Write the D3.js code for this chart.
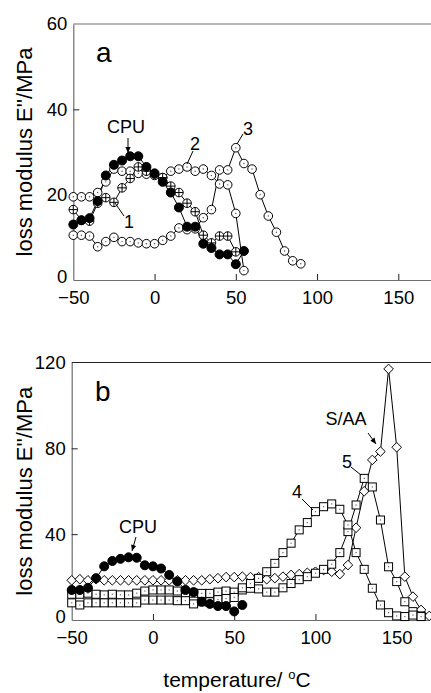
<!DOCTYPE html>
<html><head><meta charset="utf-8">
<script src="https://cdn.jsdelivr.net/npm/d3@7/dist/d3.min.js"></script>
<style>
html,body{margin:0;padding:0;background:#fff;}
svg{display:block;font-family:"Liberation Sans",Arial,sans-serif;}
</style></head>
<body>
<svg id="chart" width="431" height="693"></svg>
<script>
// ---- Data ----
const xTicks = [-50, 0, 50, 100, 150];
const yTicksA = [0, 20, 40, 60];
const yTicksB = [0, 40, 80, 120];

// Panel a
const tA_cpu = [-50,-45,-40,-35,-30,-25,-20,-15,-10,-5,0,5,10,15,20,25,30,35,40,45,50,55];
const eA_cpu = [13,14,14.5,18.5,24.5,27,28,29,29,26.5,25,23,20.5,17,12.5,12.5,8.5,7.5,6,6,3.7,6.8];
const tA_1 = [-50,-45,-40,-35,-30,-25,-20,-15,-10,-5,0,5,10,15,20,25,30,35,40,45,50];
const eA_1 = [16.5,14,13.8,18,19.3,18.2,21.6,23.8,26.5,25.5,24.8,24,22,20.5,18,16,10.5,8.7,10.3,10.3,6.6];
const tA_2 = [-50,-45,-40,-35,-30,-25,-20,-15,-10,-5,0,5,10,15,20,25,30,35,40,45,50,55];
const eA_2 = [19.5,19.5,19.5,20.5,23,26,25.5,25.5,25,24.8,24.5,24,25.5,26,26.5,25.5,26,24.5,22.5,22.3,15.6,2.2];
const tA_3 = [-50,-45,-40,-35,-30,-25,-20,-15,-10,-5,0,5,10,15,20,25,30,35,40,45,50,55,60,65,70,75,80,85,90];
const eA_3 = [10.5,10.5,10.3,7.8,9,10,9,9,8.7,8.5,8.5,9.3,10.3,12.2,11.8,12,14.6,16.5,25.8,25.8,31,27.3,26,20,15,11.2,6.8,4.5,3.8];

// Panel b
const tB_cpu = [-50,-45,-40,-35,-30,-25,-20,-15,-10,-5,0,5,10,15,20,25,30,35,40,45,50,55];
const eB_cpu = [14,14,15,19.5,25,27.5,28.5,29.2,29,25.5,25,24,21,18,14,13,8.5,7.5,6.5,6.5,4,7];
const tB_saa = [-50,-45,-40,-35,-30,-25,-20,-15,-10,-5,0,5,10,15,20,25,30,35,40,45,50,55,60,65,70,75,80,85,90,95,100,105,110,115,120,125,130,135,140,145,150,155,160,165,170];
const eB_saa = [18.5,19,18.5,19,18.5,18.5,18.5,18.5,18.5,18.5,18.5,18.5,18.5,18.5,18.5,18.5,18.5,19,19.5,20,20,20.2,20,20,19,19.5,20.2,21,21.4,22,22.5,23.3,22.5,21.4,25.6,43,60,74.6,78.5,117,80.5,20.2,10.9,4.7,1.9];
const tB_4 = [-50,-45,-40,-35,-30,-25,-20,-15,-10,-5,0,5,10,15,20,25,30,35,40,45,50,55,60,65,70,75,80,85,90,95,100,105,110,115,120,125,130,135,140,145,150,155,160,165];
const eB_4 = [8,7,8,8,8,8,8,8,8,9.3,9.3,9.3,9.3,9,9,7.5,8.5,8.5,9.5,10,10.5,15,17,19.4,22.5,26.4,31.4,35.8,42,45.4,50.5,52.8,54.1,51.6,44.3,31.4,23.6,14.8,7,3.4,1.9,1.6,2.3,1.6];
const tB_5 = [-50,-45,-40,-35,-30,-25,-20,-15,-10,-5,0,5,10,15,20,25,30,35,40,45,50,55,60,65,70,75,80,85,90,95,100,105,110,115,120,125,130,135,140,145,150,155,160,165];
const eB_5 = [12,12,12.5,12,11.7,12,11.7,11.7,12.5,13.5,14,14,14,13.5,12.5,12.5,12.4,12.4,13,13.5,13,14,14.8,14.5,13,13,15,17,18.8,20.2,21.8,23.6,26,31.4,41.2,53.6,66,62,46.6,24.8,17.9,8.5,3.9,1.9];

const zip = (t, e) => t.map((v, i) => ({t: v, e: e[i]}));

const svg = d3.select("#chart");
const axisColor = "#6e6e6e";

function panel(cfg) {
  const x = d3.scaleLinear().domain([-50, 170]).range(cfg.xr);
  const y = d3.scaleLinear().domain([0, cfg.ymax]).range(cfg.yr);
  const g = svg.append("g");

  // top spine
  g.append("line").attr("x1", cfg.xr[0]).attr("x2", 431)
    .attr("y1", y(cfg.ymax)).attr("y2", y(cfg.ymax))
    .attr("stroke", cfg.topColor).attr("stroke-width", 1.2);

  const ax = g.append("g").attr("transform", `translate(0,${y(0)})`)
    .call(d3.axisBottom(x).tickValues(xTicks).tickSizeInner(-6).tickSizeOuter(0).tickPadding(11).tickFormat(d3.format("d")));
  const ay = g.append("g").attr("transform", `translate(${cfg.xr[0]},0)`)
    .call(d3.axisLeft(y).tickValues(cfg.yTicks).tickSizeInner(-6).tickSizeOuter(0).tickPadding(6).tickFormat(d3.format("d")));
  [ax, ay].forEach(a => {
    a.select(".domain").attr("stroke", axisColor).attr("stroke-width", 1.2);
    a.selectAll(".tick line").attr("stroke", "#222");
    a.selectAll(".tick text").attr("font-size", 18.5).attr("fill", "#000")
      .attr("font-family", "'Liberation Sans', Arial, sans-serif");
  });
  // hide ticks coinciding with spines
  ay.selectAll(".tick").filter(d => d === 0 || d === cfg.ymax).select("line").remove();
  ax.selectAll(".tick").filter(d => d === -50).select("line").remove();
  // nudge the zero label slightly up so it clears the x labels
  ay.selectAll(".tick").filter(d => d === 0).select("text").attr("y", -3);

  // y title
  g.append("text").attr("transform", `translate(${32},${(cfg.yr[0] + cfg.yr[1]) / 2}) rotate(-90)`)
    .attr("text-anchor", "middle").attr("font-size", 22).text("loss modulus E''/MPa");

  // panel letter
  g.append("text").attr("x", cfg.letterX).attr("y", cfg.letterY).attr("font-size", 28).text(cfg.letter);

  const line = d3.line().x(d => x(d.t)).y(d => y(d.e));
  cfg.series.forEach(s => {
    const data = zip(s.t, s.e);
    g.append("path").datum(data).attr("d", line).attr("fill", "none")
      .attr("stroke", "#000").attr("stroke-width", 1);
  });
  cfg.series.forEach(s => {
    const data = zip(s.t, s.e);
    const m = g.append("g").selectAll("g").data(data).join("g")
      .attr("transform", d => `translate(${x(d.t)},${y(d.e)})`);
    if (s.shape === "filled") {
      m.append("circle").attr("r", 4.5).attr("fill", "#000").attr("stroke", "#000");
    } else if (s.shape === "open") {
      m.append("circle").attr("r", 4.3).attr("fill", "#fff").attr("stroke", "#000").attr("stroke-width", 1);
      m.append("circle").attr("r", 0.7).attr("fill", "#555");
    } else if (s.shape === "cross") {
      m.append("circle").attr("r", 4.3).attr("fill", "#fff").attr("stroke", "#000").attr("stroke-width", 1);
      m.append("path").attr("d", "M-4.3,0H4.3M0,-4.3V4.3").attr("stroke", "#000").attr("stroke-width", 1);
    } else if (s.shape === "square") {
      m.append("rect").attr("x", -4).attr("y", -4).attr("width", 8).attr("height", 8)
        .attr("fill", "#fff").attr("stroke", "#000").attr("stroke-width", 1);
      m.append("rect").attr("x", -0.6).attr("y", -0.6).attr("width", 1.2).attr("height", 1.2).attr("fill", "#666");
    } else if (s.shape === "diamond") {
      m.append("path").attr("d", "M0,-4.8L4.8,0L0,4.8L-4.8,0Z")
        .attr("fill", "#fff").attr("stroke", "#000").attr("stroke-width", 1);
    }
  });

  // annotations
  cfg.labels.forEach(l => {
    g.append("text").attr("x", l.x).attr("y", l.y).attr("font-size", l.size || 18)
      .attr("text-anchor", "middle").text(l.text);
    if (l.line) {
      g.append("line").attr("x1", l.line[0]).attr("y1", l.line[1]).attr("x2", l.line[2]).attr("y2", l.line[3])
        .attr("stroke", "#000").attr("stroke-width", 1);
    }
    if (l.arrow) {
      const [x1, y1, x2, y2] = l.arrow;
      g.append("line").attr("x1", x1).attr("y1", y1).attr("x2", x2).attr("y2", y2)
        .attr("stroke", "#000").attr("stroke-width", 1);
      const ang = Math.atan2(y2 - y1, x2 - x1);
      const L = 6, W = 2.6;
      const bx = x2 - L * Math.cos(ang), by = y2 - L * Math.sin(ang);
      const px = -Math.sin(ang) * W, py = Math.cos(ang) * W;
      g.append("path").attr("d", `M${x2},${y2}L${bx + px},${by + py}L${bx - px},${by - py}Z`).attr("fill", "#000");
    }
  });
  return {x, y};
}

panel({
  xr: [73.3, 430.8], yr: [280, 24], ymax: 60, yTicks: yTicksA, topColor: axisColor,
  letter: "a", letterX: 96, letterY: 62,
  series: [
    {t: tA_3, e: eA_3, shape: "open"},
    {t: tA_2, e: eA_2, shape: "open"},
    {t: tA_1, e: eA_1, shape: "cross"},
    {t: tA_cpu, e: eA_cpu, shape: "filled"}
  ],
  labels: [
    {text: "CPU", x: 126, y: 133, arrow: [128, 138, 128, 153]},
    {text: "1", x: 129, y: 228, line: [115, 203, 124, 216]},
    {text: "2", x: 195, y: 150, line: [193, 151, 187, 164]},
    {text: "3", x: 248, y: 135, line: [243, 134, 237, 144]}
  ]
});

panel({
  xr: [71.7, 429.2], yr: [620, 362.5], ymax: 120, yTicks: yTicksB, topColor: "#222",
  letter: "b", letterX: 95, letterY: 401,
  series: [
    {t: tB_saa, e: eB_saa, shape: "diamond"},
    {t: tB_5, e: eB_5, shape: "square"},
    {t: tB_4, e: eB_4, shape: "square"},
    {t: tB_cpu, e: eB_cpu, shape: "filled"}
  ],
  labels: [
    {text: "CPU", x: 138, y: 533, arrow: [136, 537, 132, 551]},
    {text: "4", x: 297, y: 498, line: [302, 499, 313, 510]},
    {text: "5", x: 347, y: 468, line: [351, 467, 361, 475]},
    {text: "S/AA", x: 346, y: 425, arrow: [368, 433, 376, 444]}
  ]
});

// x title
const xt = svg.append("text").attr("x", 237).attr("y", 687).attr("text-anchor", "middle").attr("font-size", 21);
xt.append("tspan").text("temperature/ ");
xt.append("tspan").attr("font-size", 13).attr("dy", -8).text("o");
xt.append("tspan").attr("dy", 8).text("C");
</script>
</body></html>
